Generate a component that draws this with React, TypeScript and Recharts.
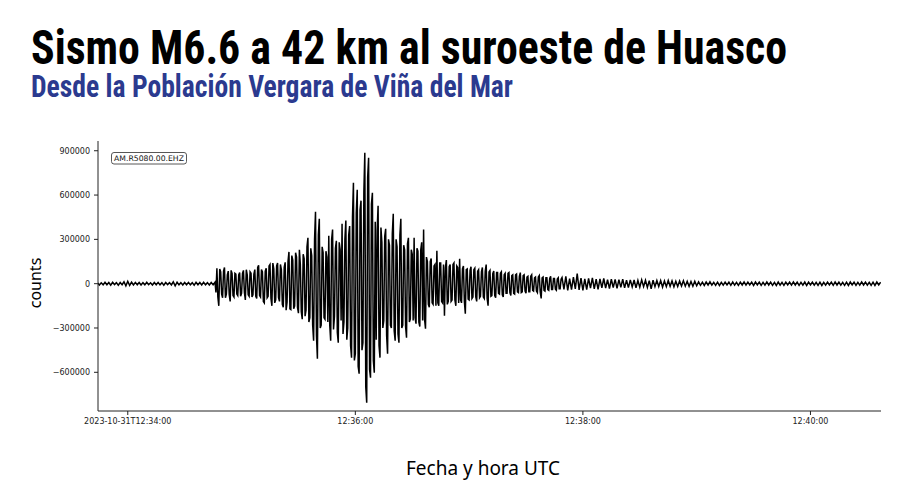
import React from "react";
import { LineChart, Line, XAxis, YAxis } from "recharts";

// Seismogram counts in thousands.
// Whole-second samples start at t = -16 s (12:33:44 UTC), one per second.
const preEventK = [
  7, -9, 6, -8, 10, -7, 8, -10, 9, -6,
  7, -10, 8, -7, 13, -15, 16, -12, 10, -8,
  9, -7, 8, -9, 7, -8, 10, -7, 6, -9,
  8, -7, 9, -8, 7, -10, 8, -6, 7, -9,
  12, -14, 10, -8, 7, -9, 8, -7, 9, -8,
  7, -10, 9, -7, 8, -9, 10, -8, 7, -9,
  8, -7, 10,
];
const pWaveK = [
  105, -150, 80, -95, 110, -70, 85, -120, 70, -90,
  65, -80, 75, -65, 90, -110, 60, -85, 70, -75,
  95, -100, 125, -90, 80, -130, 105, -85, 130, -150,
  100, -110, 140, -120, 95, -160, 145, -125, 215,
];
const sOnsetK = [-175, 160, -150, 180, -200, 130, -240, 170, -180, 311, -230, 190, -386, 487, -508];
const strongK = [
  440, -280, 210, -240, 180, 325, -386, 366, -220, 290,
  -400, 230, 406, -260, 427, -300, 390, -501, 684, -474,
  636, -610, 562, -400, 887, -806, 853, -637, 616, -603,
  -380, 528, -501, 280, -250, 372, -474, 260, -300, 474,
  -386, 250, -400, 440, -280, 230, -366, 311, -240, 200,
  311, -271, 220, -290, 280, 366, -305,
];
const decayK = [
  150, -160, 170, -140, 130, 223, -150, 140, -130, -217,
  160, -120, 130, -110, 140, -150, 110, 169, -130, 120,
  -203, 100, -110, 115, -90, 105, -120, 95, -85, 110,
  -100, 129, -149, 90, -80, 85, -95, 75, -70, 80,
  -90, 70, -65, 75, -80, 60, -70, 65, -60, 75,
  -55, 60, -65, 50, -55, 60, -50, 45, -60, 55,
  -100, 45, -50, 40, -45, 50, -40, 35, -45, 40,
  -35,
];
const codaK = [
  42, -38, 50, -45, 35, -40, 45, -35, 68, -42,
  38, -45, 33, -40, 36, -30, 40, -35, 30, -38,
  32, -28, 35, -30, 28, -33, 30, -26, 29, -32,
  27, -25, 30, -28, 24, -27, 26, -22, 25, -28,
  22, -24, 26, -20, 23, -25, 21, -35, 24, -20,
  22, -19, 21, -23, 18, -20, 22, -18, 19, -21,
  17, -19, 18, -16, 20, -17, 16, -18, 15, -17,
  16, -14,
];
const tailK = [
  12, -11, 10, -12, 11, -9, 13, -10, 9, -11,
  10, -12, 9, -10, 11, -9, 10, -11, 12, -10,
  9, -11, 10, -9, 12, -10, 11, -9, 10, -12,
  11, -9, 10, -11, 9, -10, 12, -9, 10, -11,
  9, -12, 11, -10, 9, -11, 10, -9, 11, -10,
  12, -9, 10, -11, 9, -10, 11, -12, 10, -9,
  11, -10, 9, -11, 10, -12, 9, -10, 11, -9,
  10, -11, 12, -9, 10, -10, 9, -11, 10, -12,
  11, -9, 10, -11, 9, -10, 12, -9, 11, -10,
  9, -11, 10, -12, 11, -9, 10,
];

// Half-second samples during the shaking, starting at t = 46.5 s, one per second.
const pWaveHalfK = [
  -60, -90, 100, -70, 85, -95, 60, -75, 90, -80, 70,
  -70, 60, -85, 70, -60, 95, -75, 80, -90, 65,
  -85, 110, -80, 95, -120, 85, -95, 120, -100, 140,
  -130, 120, -95, 130, -140, 110, -180, 150, -170,
];
const sOnsetHalfK = [190, -170, 210, -160, 230, -190, 200, -220, 250, -260, 240, -280, 300, -350, 330];
const strongHalfK = [
  -300, 250, -230, 220, -260, -280, 300, -310, 240, -330,
  280, -250, -340, 300, -380, 330, -420, 450, -520, 480,
  -560, 500, -450, 620, -700, 720, -580, 540, -520, 420,
  360, -420, 380, -300, 320, -350, 300, -280, 340, -320,
  300, -340, 330, -300, 260, -290, 270, -260, 230, -250,
  -230, 240, -260, 230, -250, -240, 180,
];
const decayHalfK = [
  -140, 150, -130, 120, -150, -130, 140, -120, 130, 110,
  -140, 115, -120, 130, -110, 120, -130, -110, 100, -120,
  95, -105, 90, -100, 95, -90, 85, -95, 80, -90,
  85, -100, 80, -85, 70, -80, 75, -65, 70, -75,
  60, -65, 70, -60, 55, -65, 60, -55, 50, -60,
  55, -50, 45, -55, 50, -45, 40, -50, 45, -55,
  40, -45, 40, -40, 35, -40, 35, -38, 32, -35,
  30,
];

const startSecond = -16;
const halfStartSecond = 46.5;
const sampleStep = 1;
const xDomain = [-15.7, 397.2];
const yDomain = [-862000, 966000];
const xTicks = [0, 120, 240, 360];
const xTickLabels = ["2023-10-31T12:34:00", "12:36:00", "12:38:00", "12:40:00"];
const yTicks = [-600000, -300000, 0, 300000, 600000, 900000];
const yTickLabels = ["\u2212600000", "\u2212300000", "0", "300000", "600000", "900000"];

const wholeK = [...preEventK, ...pWaveK, ...sOnsetK, ...strongK, ...decayK, ...codaK, ...tailK];
const halfK = [...pWaveHalfK, ...sOnsetHalfK, ...strongHalfK, ...decayHalfK];
const data = [
  ...wholeK.map((v, i) => ({ t: startSecond + i * sampleStep, counts: v * 1000 })),
  ...halfK.map((v, i) => ({ t: halfStartSecond + i * sampleStep, counts: v * 1000 })),
].sort((a, b) => a.t - b.t);

const tickStyle = { fontSize: 8, fill: "#222", fontFamily: "'DejaVu Sans', sans-serif" };
const frame = { stroke: "#222", strokeWidth: 1 };

export default function App() {
  return (
    <div style={{ position: "absolute", left: 0, top: 0, width: 900, height: 503, background: "#fff" }}>
      <LineChart
        width={900}
        height={503}
        data={data}
        margin={{ top: 141, right: 19, bottom: 0, left: 0 }}
      >
        <XAxis
          dataKey="t"
          type="number"
          domain={xDomain}
          allowDataOverflow
          ticks={xTicks}
          interval={0}
          tickFormatter={(v: number) => xTickLabels[xTicks.indexOf(v)] ?? ""}
          tick={tickStyle}
          tickSize={4}
          tickMargin={3}
          tickLine={{ stroke: "#222" }}
          axisLine={frame}
          height={92}
        />
        <XAxis
          xAxisId="top"
          orientation="top"
          type="number"
          domain={xDomain}
          allowDataOverflow
          tick={false}
          tickLine={false}
          axisLine={frame}
          height={0}
        />
        <YAxis
          type="number"
          domain={yDomain}
          allowDataOverflow
          ticks={yTicks}
          interval={0}
          tickFormatter={(v: number) => yTickLabels[yTicks.indexOf(v)] ?? ""}
          tick={tickStyle}
          tickSize={4}
          tickMargin={4}
          tickLine={{ stroke: "#222" }}
          axisLine={frame}
          width={98}
        />
        <YAxis
          yAxisId="right"
          orientation="right"
          type="number"
          domain={[0, 1]}
          tick={false}
          tickLine={false}
          axisLine={frame}
          width={0}
        />
        <Line
          type="linear"
          dataKey="counts"
          stroke="#000"
          strokeWidth={1.5}
          strokeLinejoin="miter"
          dot={false}
          isAnimationActive={false}
        />
      </LineChart>
      <svg
        width={900}
        height={503}
        style={{ position: "absolute", left: 0, top: 0, pointerEvents: "none" }}
      >
        <text
          x={31}
          y={64}
          fontFamily="'Liberation Sans Narrow', 'Roboto Condensed', Roboto, 'Liberation Sans', sans-serif"
          fontWeight={700}
          fontSize={48}
          textLength={756}
          lengthAdjust="spacingAndGlyphs"
          fill="#000"
        >
          Sismo M6.6 a 42 km al suroeste de Huasco
        </text>
        <text
          x={31}
          y={97}
          fontFamily="'Liberation Sans Narrow', 'Roboto Condensed', Roboto, 'Liberation Sans', sans-serif"
          fontWeight={700}
          fontSize={31}
          textLength={482}
          lengthAdjust="spacingAndGlyphs"
          fill="#2b3a8f"
        >
          Desde la Población Vergara de Viña del Mar
        </text>
        <rect x={111.5} y={152.5} width={75} height={11.5} rx={2.5} ry={2.5} fill="#fff" stroke="#444" strokeWidth={0.9} />
        <text
          x={149}
          y={161.2}
          textAnchor="middle"
          fontFamily="'DejaVu Sans', sans-serif"
          fontSize={7.7}
          fill="#111"
        >
          AM.R5080.00.EHZ
        </text>
        <text
          transform="translate(41, 283) rotate(-90)"
          textAnchor="middle"
          fontFamily="'Noto Sans', sans-serif"
          fontSize={16}
          fill="#000"
        >
          counts
        </text>
        <text
          x={483}
          y={475}
          textAnchor="middle"
          fontFamily="'Noto Sans', sans-serif"
          fontSize={19}
          fill="#000"
        >
          Fecha y hora UTC
        </text>
      </svg>
    </div>
  );
}
